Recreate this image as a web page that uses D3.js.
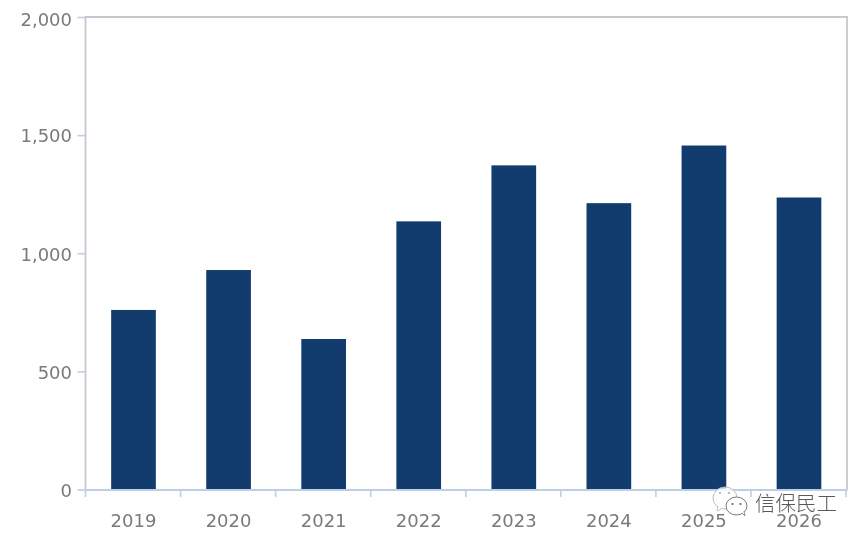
<!DOCTYPE html>
<html><head><meta charset="utf-8">
<script src="https://cdnjs.cloudflare.com/ajax/libs/d3/7.8.5/d3.min.js"></script>
<style>html,body{margin:0;padding:0;background:#fff}svg{display:block}</style>
</head><body><div id="c"></div>
<script>
const years = ["2019","2020","2021","2022","2023","2024","2025","2026"];
const values = [760,929,637,1135,1372,1212,1456,1236];
const yTicks = [0,500,1000,1500,2000];
const watermark = "信保民工";

const W=865,H=541,L=85.5,R=847,T=17,B=489.5;
const svg=d3.select("#c").append("svg").attr("width",W).attr("height",H);
const defs=svg.append("defs");
defs.append("filter").attr("id","soft").attr("color-interpolation-filters","sRGB")
 .attr("x","-5%").attr("y","-5%").attr("width","110%").attr("height","110%")
 .append("feGaussianBlur").attr("stdDeviation",0.5);
const root=svg.append("g").attr("filter","url(#soft)");
const x=d3.scaleBand().domain(years).range([L,R]).paddingInner(0.53).paddingOuter(0.27);
const y=d3.scaleLinear().domain([0,2000]).range([B,T]);
const font="'DejaVu Sans',sans-serif";
const textColor="#7a7a7a", tickColor="#bccfe6";

// frame
root.append("path").attr("d",`M${L},${B}V${T}H${R}V${B}`).attr("fill","none").attr("stroke","#c6c8cc").attr("stroke-width",1.8);

// bars
root.selectAll("rect.bar").data(values).join("rect").attr("class","bar")
 .attr("x",(d,i)=>x(years[i])).attr("width",x.bandwidth())
 .attr("y",d=>y(d)).attr("height",d=>y(0)-y(d))
 .attr("fill","#133c6e");

// y axis
const ya=root.append("g").attr("transform",`translate(${L},0)`)
 .call(d3.axisLeft(y).tickValues(yTicks).tickFormat(d3.format(",")).tickSize(8).tickPadding(5.5));
ya.select(".domain").remove();
ya.selectAll("line").attr("stroke",tickColor).attr("stroke-width",1.6);
ya.selectAll("text").attr("font-family",font).attr("font-size",18).attr("fill",textColor)
 .attr("y",d=>d===2000?3:1);

// x axis
const step=x.step();
const edges=d3.range(years.length+1).map(i=>L+i*step);
const xa=root.append("g").attr("transform",`translate(0,${B})`)
 .call(d3.axisBottom(x).tickSize(0).tickPadding(25));
xa.select(".domain").attr("stroke",tickColor).attr("stroke-width",1.8);
xa.selectAll("text").attr("font-family",font).attr("font-size",18).attr("fill",textColor);
xa.selectAll("line.edge").data(edges).join("line").attr("class","edge")
 .attr("x1",d=>d).attr("x2",d=>d).attr("y1",0).attr("y2",7.5)
 .attr("stroke",tickColor).attr("stroke-width",1.6);

// watermark
const wm=svg.append("g").attr("filter","url(#soft)");
wm.append("ellipse").attr("cx",725).attr("cy",498).attr("rx",12).attr("ry",11).attr("fill","#fff").attr("fill-opacity",.8).attr("stroke","#b5b5b5").attr("stroke-width",.9);
wm.append("path").attr("d","M718,506l-1,5l6,-3").attr("fill","#fff").attr("stroke","#b5b5b5").attr("stroke-width",.8);
wm.append("ellipse").attr("cx",736.5).attr("cy",506).attr("rx",10.5).attr("ry",9).attr("fill","#fff").attr("fill-opacity",.95).attr("stroke","#777").attr("stroke-width",1);
wm.append("path").attr("d","M742,513l3,3l-1,-5").attr("fill","#fff").attr("stroke","#777").attr("stroke-width",.8);
wm.selectAll("circle").data([[732.5,504],[740.5,504],[720,493],[729,493]]).join("circle").attr("cx",d=>d[0]).attr("cy",d=>d[1]).attr("r",1.1).attr("fill",(d,i)=>i<2?"#666":"#aaa");
svg.append("text").attr("x",755).attr("y",510.5).attr("font-family","'Noto Sans CJK SC',sans-serif").attr("font-weight",300).attr("font-size",20.5).attr("fill","#3c3c3c").attr("fill-opacity",.85).text(watermark);
</script></body></html>
